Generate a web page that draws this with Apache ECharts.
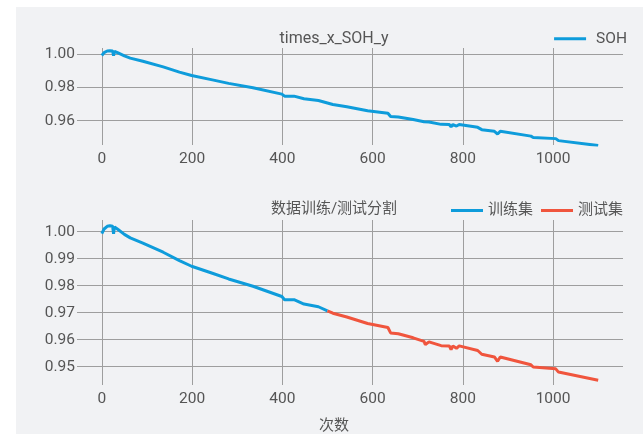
<!DOCTYPE html>
<html>
<head>
<meta charset="utf-8">
<script src="https://cdn.jsdelivr.net/npm/echarts@6/dist/echarts.min.js"></script>
<style>
html,body{margin:0;padding:0;background:#ffffff;}
#bg{position:absolute;left:16px;top:7px;width:627px;height:427px;background:#f1f2f4;}
#chart{position:absolute;left:0;top:0;width:643px;height:434px;}
</style>
</head>
<body>
<div id="bg"></div>
<div id="chart"></div>
<script>
// ---- data ----
var cycles = [0, 5, 12, 18, 24, 26, 28, 36, 50, 63, 91, 136, 172, 199, 245, 281, 335, 399, 405, 426, 448, 480, 500,
  512, 543, 589, 634, 640, 657, 690, 714, 717, 725, 752, 770, 774, 778, 786, 792, 833, 842, 870, 877, 883, 951, 956, 1006, 1012, 1100];
var soh = [0.9993, 1.0010, 1.0020, 1.0022, 1.0020, 0.9992, 1.0018, 1.0008, 0.9990, 0.9977, 0.9958, 0.9924, 0.9893, 0.9872, 0.9846, 0.9825, 0.9798, 0.9760, 0.9748, 0.9748, 0.9732, 0.9722, 0.9707,
  0.9698, 0.9684, 0.9660, 0.9645, 0.9625, 0.9622, 0.9607, 0.9594, 0.9582, 0.9592, 0.9578, 0.9577, 0.9563, 0.9577, 0.9568, 0.9577, 0.9560, 0.9546, 0.9536, 0.9520, 0.9536, 0.9507, 0.9499, 0.9492, 0.9480, 0.9450];
var splitCycle = 500;
var titleTop = 'times_x_SOH_y';
var titleBottom = '数据训练/测试分割';
var seriesNames = ['SOH', '训练集', '测试集'];
var xAxisName = '次数';

function pairs(filterFn) {
  var out = [];
  for (var i = 0; i < cycles.length; i++) {
    if (filterFn(cycles[i])) out.push([cycles[i], soh[i]]);
  }
  return out;
}
var allData = pairs(function () { return true; });
var trainData = pairs(function (c) { return c <= splitCycle; });
var testData = pairs(function (c) { return c >= splitCycle; });

var BLUE = '#0e9cdb', RED = '#f0553d', GRID = '#9e9e9e', TXT = '#555555';
var FONT = 'Roboto, "Noto Sans CJK SC", sans-serif';

function xAxisCfg(gi) {
  return {
    type: 'value', gridIndex: gi, min: -55, max: 1155, splitNumber: 6,
    axisLine: {show: false}, axisTick: {show: false},
    axisLabel: {color: TXT, fontSize: 15.5, fontFamily: FONT, margin: 6, showMinLabel: false, showMaxLabel: false,
      formatter: function (v) { return String(Math.round(v)); }},
    splitLine: {show: true, showMinLine: false, showMaxLine: false, lineStyle: {color: GRID, width: 1}}
  };
}
function yAxisCfg(gi, mn, mx, sn) {
  return {
    type: 'value', gridIndex: gi, min: mn, max: mx, splitNumber: sn,
    axisLine: {show: false}, axisTick: {show: false},
    axisLabel: {color: TXT, fontSize: 15.5, fontFamily: FONT, margin: 2, showMinLabel: false, showMaxLabel: false,
      formatter: function (v) { return v.toFixed(2); }},
    splitLine: {show: true, showMinLine: false, showMaxLine: false, lineStyle: {color: GRID, width: 1}}
  };
}

var chart = echarts.init(document.getElementById('chart'), null, {renderer: 'canvas'});
chart.setOption({
  backgroundColor: 'transparent',
  animation: false,
  textStyle: {fontFamily: FONT},
  title: [
    {text: titleTop, left: 329, top: 26, textAlign: 'center',
      textStyle: {color: TXT, fontSize: 16, fontWeight: 'normal', fontFamily: FONT}},
    {text: titleBottom, left: 329, top: 197, textAlign: 'center',
      textStyle: {color: TXT, fontSize: 15, fontWeight: 'normal', fontFamily: FONT}},
    {text: xAxisName, left: 329, top: 414, textAlign: 'center',
      textStyle: {color: TXT, fontSize: 15, fontWeight: 'normal', fontFamily: FONT}}
  ],
  legend: [
    {data: [seriesNames[0]], right: 11, top: 26, icon: 'rect', itemWidth: 32, itemHeight: 3, itemGap: 10,
      textStyle: {color: TXT, fontSize: 15.5, fontFamily: FONT, padding: [0, 0, 0, 5]}},
    {data: [seriesNames[1], seriesNames[2]], right: 15, top: 198, icon: 'rect', itemWidth: 32, itemHeight: 3, itemGap: 8,
      textStyle: {color: TXT, fontSize: 15, fontFamily: FONT}}
  ],
  grid: [
    {left: 77, right: 20, top: 48, height: 97},
    {left: 77, right: 20, top: 220, height: 165}
  ],
  xAxis: [xAxisCfg(0), xAxisCfg(1)],
  yAxis: [yAxisCfg(0, 0.94536, 1.0038, 3), yAxisCfg(1, 0.94322, 1.00433, 6)],
  series: [
    {name: seriesNames[0], type: 'line', xAxisIndex: 0, yAxisIndex: 0, data: allData,
      symbol: 'none', lineStyle: {color: BLUE, width: 3}, itemStyle: {color: BLUE}},
    {name: seriesNames[1], type: 'line', xAxisIndex: 1, yAxisIndex: 1, data: trainData,
      symbol: 'none', lineStyle: {color: BLUE, width: 3}, itemStyle: {color: BLUE}},
    {name: seriesNames[2], type: 'line', xAxisIndex: 1, yAxisIndex: 1, data: testData,
      symbol: 'none', lineStyle: {color: RED, width: 3}, itemStyle: {color: RED}}
  ]
});
</script>
</body>
</html>
